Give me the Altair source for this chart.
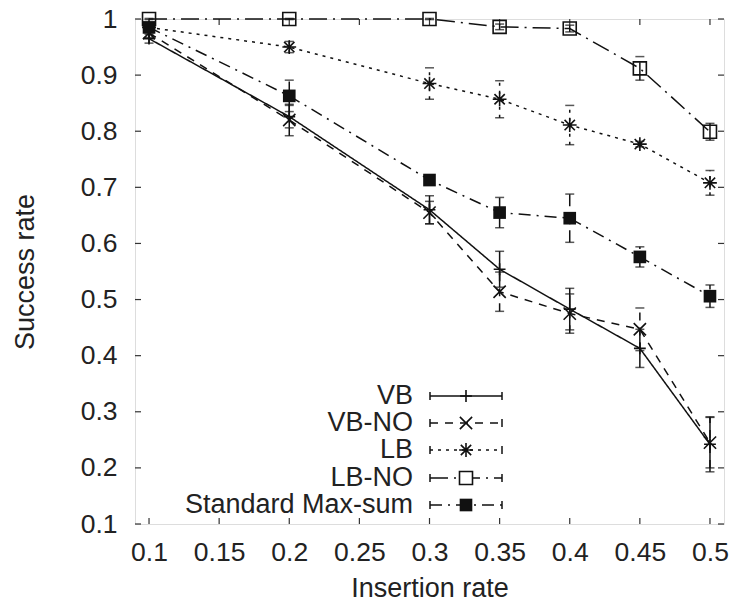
import altair as alt
import pandas as pd

# ---------------- data ----------------
x_vals = [0.1, 0.2, 0.3, 0.35, 0.4, 0.45, 0.5]
series_names = ["VB", "VB-NO", "LB", "LB-NO", "Standard Max-sum"]

vb_y = [0.965, 0.826, 0.660, 0.554, 0.483, 0.413, 0.242]
vb_e = [0.008, 0.020, 0.025, 0.032, 0.037, 0.034, 0.049]
vbno_y = [0.975, 0.820, 0.655, 0.514, 0.475, 0.447, 0.245]
vbno_e = [0.008, 0.028, 0.020, 0.035, 0.035, 0.038, 0.045]
lb_y = [0.985, 0.950, 0.885, 0.857, 0.811, 0.777, 0.708]
lb_e = [0.005, 0.010, 0.028, 0.033, 0.035, 0.005, 0.022]
lbno_y = [1.000, 1.000, 1.000, 0.986, 0.983, 0.912, 0.799]
lbno_e = [0.001, 0.001, 0.001, 0.005, 0.006, 0.021, 0.015]
std_y = [0.985, 0.863, 0.713, 0.655, 0.645, 0.576, 0.506]
std_e = [0.008, 0.028, 0.006, 0.027, 0.043, 0.018, 0.020]

x_ticks = [0.1, 0.15, 0.2, 0.25, 0.3, 0.35, 0.4, 0.45, 0.5]
y_ticks = [0.1, 0.2, 0.3, 0.4, 0.5, 0.6, 0.7, 0.8, 0.9, 1.0]

all_y = [vb_y, vbno_y, lb_y, lbno_y, std_y]
all_e = [vb_e, vbno_e, lb_e, lbno_e, std_e]

rows = []
for name, ys_, es_ in zip(series_names, all_y, all_e):
    for xv, yv, ev in zip(x_vals, ys_, es_):
        rows.append({"series": name, "x": xv, "y": yv, "lo": yv - ev, "hi": yv + ev})
df = pd.DataFrame(rows)

# ---------------- styling ----------------
W, H = 589, 505
FONT = "Liberation Sans"
INK = "#111111"
FRAME = "#333333"

PLUS = "M-1,0L1,0M0,-1L0,1"
XSHAPE = "M-1,-1L1,1M-1,1L1,-1"
STAR = "M-1,0L1,0M0,-1L0,1M-0.75,-0.75L0.75,0.75M-0.75,0.75L0.75,-0.75"

styles = {
    "VB": dict(dash=[1, 0], shape=PLUS, filled=False, size=140),
    "VB-NO": dict(dash=[8, 7], shape=XSHAPE, filled=False, size=150),
    "LB": dict(dash=[3, 5], shape=STAR, filled=False, size=190),
    "LB-NO": dict(dash=[18, 6, 2, 6], shape="square", filled=False, size=169),
    "Standard Max-sum": dict(dash=[12, 6, 2, 6], shape="square", filled=True, size=160),
}

xs = alt.Scale(domain=[0.09, 0.51], nice=False, zero=False)
ysc = alt.Scale(domain=[0.1, 1.0], nice=False, zero=False)

xaxis = alt.Axis(values=x_ticks, format=".2~f", title="Insertion rate", ticks=False,
                 domain=False, grid=False, labelPadding=15, titlePadding=10,
                 labelFont=FONT, labelFontSize=26.5, titleFont=FONT, titleFontSize=27,
                 titleFontWeight="normal", labelColor="#222", titleColor="#222",
                 labelFlush=False, labelOverlap=False)
yaxis = alt.Axis(values=y_ticks, format=".1~f", title="Success rate", ticks=False,
                 domain=False, grid=False, labelPadding=18, titlePadding=41,
                 labelFont=FONT, labelFontSize=26.5, titleFont=FONT, titleFontSize=27,
                 titleFontWeight="normal", labelColor="#222", titleColor="#222",
                 labelFlush=False, labelOverlap=False)


def X(field):
    return alt.X(field, type="quantitative", scale=xs, axis=xaxis)


def Y(field):
    return alt.Y(field, type="quantitative", scale=ysc, axis=yaxis)


layers = []

# inward ticks on all four sides
ytick_df = pd.DataFrame({"v": y_ticks})
xtick_df = pd.DataFrame({"v": x_ticks})
tick_style = dict(color=FRAME, strokeWidth=1.2)
layers.append(alt.Chart(ytick_df).mark_rule(**tick_style).encode(
    y=Y("v"), x=alt.value(0), x2=alt.value(6)))
layers.append(alt.Chart(ytick_df).mark_rule(**tick_style).encode(
    y=Y("v"), x=alt.value(W - 6), x2=alt.value(W)))
layers.append(alt.Chart(xtick_df).mark_rule(**tick_style).encode(
    x=X("v"), y=alt.value(H - 6), y2=alt.value(H)))
layers.append(alt.Chart(xtick_df).mark_rule(**tick_style).encode(
    x=X("v"), y=alt.value(0), y2=alt.value(6)))

# series
for name in series_names:
    st = styles[name]
    d = df[df["series"] == name]
    layers.append(alt.Chart(d).mark_line(color=INK, strokeWidth=1.5, strokeDash=st["dash"]).encode(
        x=X("x"), y=Y("y")))
    layers.append(alt.Chart(d).mark_rule(color=INK, strokeWidth=1.5,
                                         strokeDash=[st["dash"][0], st["dash"][1]] if name != "VB" else [1, 0]).encode(
        x=X("x"), y=Y("lo"), y2=alt.Y2("hi")))
    layers.append(alt.Chart(d).transform_fold(["lo", "hi"], as_=["k", "v"]).mark_tick(
        orient="horizontal", color=INK, size=9, thickness=1.5).encode(
        x=X("x"), y=Y("v")))
    pt = dict(shape=st["shape"], size=st["size"], filled=st["filled"], strokeWidth=1.6, opacity=1)
    if st["filled"]:
        pt.update(color=INK, fill=INK)
    else:
        pt.update(color=INK, fillOpacity=0)
    layers.append(alt.Chart(d).mark_point(**pt).encode(x=X("x"), y=Y("y")))

# legend (bottom-left inside the plot)
leg_rows = [377, 404, 431, 459, 486]
lx0, lx1, lsym, ltext = 295, 367, 331, 278
for name, ry in zip(series_names, leg_rows):
    st = styles[name]
    ld = pd.DataFrame({"series": [name]})
    base = alt.Chart(ld)
    layers.append(base.mark_rule(color=INK, strokeWidth=1.5, strokeDash=st["dash"]).encode(
        x=alt.value(lx0), x2=alt.value(lx1), y=alt.value(ry)))
    layers.append(base.mark_rule(color=INK, strokeWidth=1.5).encode(
        x=alt.value(lx0), y=alt.value(ry - 4), y2=alt.value(ry + 4)))
    layers.append(base.mark_rule(color=INK, strokeWidth=1.5).encode(
        x=alt.value(lx1), y=alt.value(ry - 4), y2=alt.value(ry + 4)))
    pt = dict(shape=st["shape"], size=st["size"], filled=st["filled"], strokeWidth=1.6, opacity=1)
    if st["filled"]:
        pt.update(color=INK, fill=INK)
    else:
        pt.update(color=INK, fill="white", fillOpacity=1)
    layers.append(base.mark_point(**pt).encode(x=alt.value(lsym), y=alt.value(ry)))
    layers.append(base.mark_text(align="right", baseline="middle", font=FONT, fontSize=27,
                                 color="#222").encode(
        x=alt.value(ltext), y=alt.value(ry), text="series:N"))

chart = alt.layer(*layers).properties(
    width=W, height=H,
    autosize=alt.AutoSizeParams(type="none"),
    padding={"left": 127, "top": 11, "right": 6, "bottom": 75},
).configure_view(stroke=FRAME, strokeWidth=2).configure(background="white")

chart.save("out.html", embed_options={"renderer": "svg", "actions": False})
